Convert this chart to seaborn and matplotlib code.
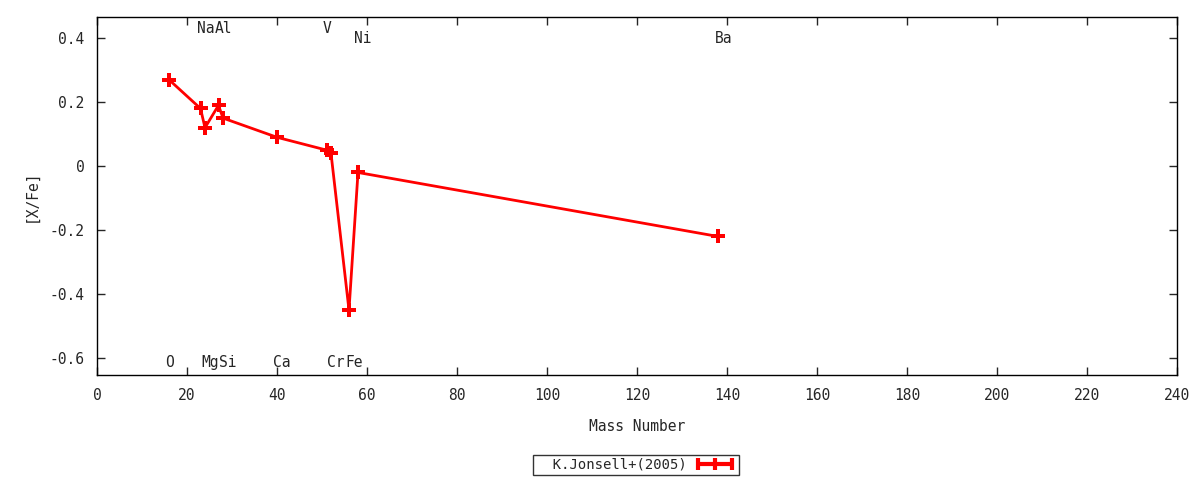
import matplotlib
matplotlib.use("Agg")
import matplotlib.pyplot as plt
import seaborn as sns
import pandas as pd

elements = ["O", "Na", "Mg", "Al", "Si", "Ca", "V", "Cr", "Fe", "Ni", "Ba"]
mass = [16, 23, 24, 27, 28, 40, 51, 52, 56, 58, 138]
xfe = [0.27, 0.18, 0.12, 0.19, 0.15, 0.09, 0.05, 0.04, -0.45, -0.02, -0.22]
label_y = [-0.615, 0.43, -0.615, 0.43, -0.615, -0.615, 0.43, -0.615, -0.615, 0.40, 0.40]
series_name = "K.Jonsell+(2005)"

df = pd.DataFrame({"mass": mass, "xfe": xfe, "src": series_name})

sns.set_style("ticks")
plt.rcParams["font.family"] = ["DejaVu Sans Mono"]
FS = 10.5
plt.rcParams["font.size"] = FS

fig = plt.figure(figsize=(12, 4.8), dpi=100)
ax = fig.add_axes([97/1200, 1-375/480, (1177-97)/1200, (375-17)/480])

sns.lineplot(data=df, x="mass", y="xfe", hue="src", palette=["#ff0000"],
             marker="P", markersize=9.5, markeredgewidth=0, linewidth=2,
             sort=False, ax=ax, legend=True)

for el, m, ly in zip(elements, mass, label_y):
    ax.text(m - 0.8, ly, el, ha="left", va="center", fontsize=FS)

ax.set_xlim(0, 240)
ax.set_ylim(-0.653, 0.466)
ax.set_xticks(range(0, 241, 20))
ax.set_yticks([-0.6, -0.4, -0.2, 0, 0.2, 0.4])
ax.set_yticklabels(["-0.6", "-0.4", "-0.2", "0", "0.2", "0.4"])
ax.tick_params(direction="in", top=True, right=True, length=6, width=1, labelsize=FS, pad=9)
for s in ax.spines.values():
    s.set_linewidth(1)
    s.set_color("black")
ax.set_xlabel("Mass Number", fontsize=FS, labelpad=12)
ax.set_ylabel("[X/Fe]", fontsize=FS, labelpad=8)

handles, labels = ax.get_legend_handles_labels()
if ax.get_legend() is not None:
    ax.get_legend().remove()
leg = fig.legend(handles, ["  " + series_name], loc="center", bbox_to_anchor=(636/1200, 1-465/480),
                 frameon=True, fancybox=False, edgecolor="black", markerfirst=False,
                 handlelength=3.0, borderpad=0.25, fontsize=10, numpoints=3,
                 handletextpad=0.5)
leg.get_frame().set_linewidth(1)
for h in leg.legend_handles:
    h.set_linewidth(3)
    h.set_marker("|")
    h.set_markersize(8)
    h.set_markeredgewidth(3)
    h.set_markeredgecolor("#ff0000")
    h.set_markerfacecolor("#ff0000")

fig.savefig("out.png", dpi=100)
